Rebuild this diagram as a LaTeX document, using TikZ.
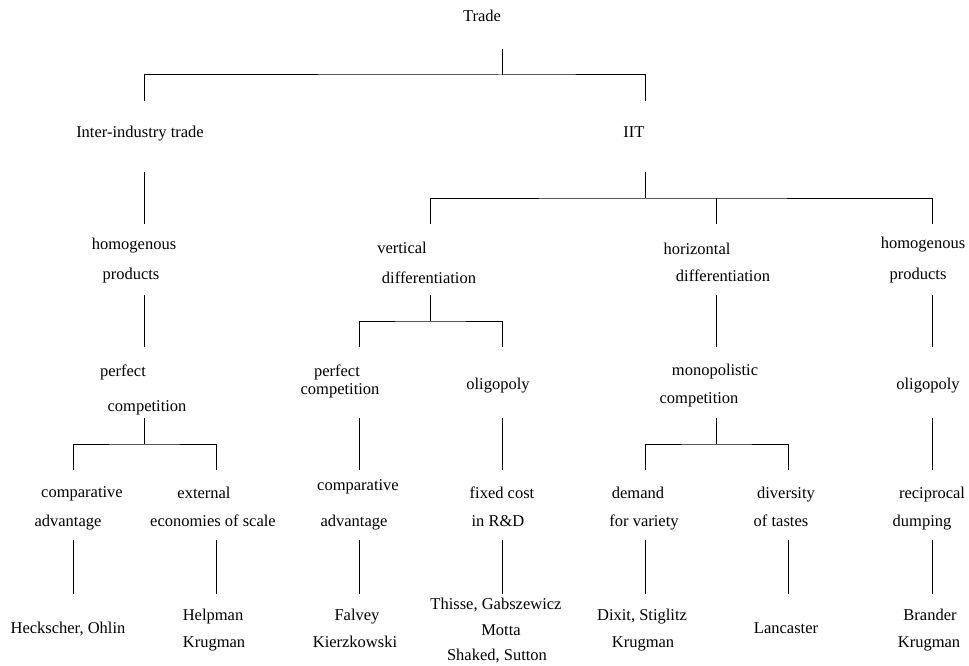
\documentclass[tikz,border=0pt]{standalone}
\usepackage{fontspec}
\setmainfont{Liberation Serif}
\begin{document}
\begin{tikzpicture}[x=1pt,y=-1pt,
  lbl/.style={anchor=base,inner sep=0pt,font=\fontsize{16.5}{19}\selectfont},
  conn/.style={draw=black,line width=1pt}]
\useasboundingbox (0,0) rectangle (969,666);
% ---- labels ----
\node[lbl] (trade) at (482,22) {Trade};
\node[lbl] (inter) at (140,138) {Inter-industry trade};
\node[lbl] (iit) at (634,138) {IIT};
\node[lbl] (hlA) at (134,249) {homogenous};
\node[lbl] (hlB) at (131,279) {products};
\node[lbl] (vdA) at (402,253) {vertical};
\node[lbl] (vdB) at (429,283) {differentiation};
\node[lbl] (hdA) at (697,254) {horizontal};
\node[lbl] (hdB) at (723,281) {differentiation};
\node[lbl] (hpA) at (923,248) {homogenous};
\node[lbl] (hpB) at (918,279) {products};
\node[lbl] (pcA) at (123,376) {perfect};
\node[lbl] (pcB) at (147,411) {competition};
\node[lbl] (vpA) at (337,376) {perfect};
\node[lbl] (vpB) at (340,394) {competition};
\node[lbl] (vo) at (498,389) {oligopoly};
\node[lbl] (mcA) at (715,375) {monopolistic};
\node[lbl] (mcB) at (699,403) {competition};
\node[lbl] (og) at (928,389) {oligopoly};
\node[lbl] (caA) at (82,497) {comparative};
\node[lbl] (caB) at (68,526) {advantage};
\node[lbl] (eeA) at (204,498) {external};
\node[lbl] (eeB) at (213,526) {economies of scale};
\node[lbl] (vcA) at (358,490) {comparative};
\node[lbl] (vcB) at (354,526) {advantage};
\node[lbl] (frA) at (502,498) {fixed cost};
\node[lbl] (frB) at (498,526) {in R\&D};
\node[lbl] (dvA) at (638,498) {demand};
\node[lbl] (dvB) at (644,526) {for variety};
\node[lbl] (dtA) at (786,498) {diversity};
\node[lbl] (dtB) at (781,526) {of tastes};
\node[lbl] (rdA) at (932,498) {reciprocal};
\node[lbl] (rdB) at (922,526) {dumping};
\node[lbl] (ho) at (68,633) {Heckscher, Ohlin};
\node[lbl] (hkA) at (213,620) {Helpman};
\node[lbl] (hkB) at (214,647) {Krugman};
\node[lbl] (fkA) at (357,620) {Falvey};
\node[lbl] (fkB) at (355,647) {Kierzkowski};
\node[lbl] (tgA) at (496,609) {Thisse, Gabszewicz};
\node[lbl] (tgB) at (501,635) {Motta};
\node[lbl] (tgC) at (497,660) {Shaked, Sutton};
\node[lbl] (dsA) at (642,620) {Dixit, Stiglitz};
\node[lbl] (dsB) at (643,647) {Krugman};
\node[lbl] (lc) at (786,633) {Lancaster};
\node[lbl] (bkA) at (930,620) {Brander};
\node[lbl] (bkB) at (929,647) {Krugman};
% ---- connector end points ----
\coordinate (tS) at (502,49);   \coordinate (tJ) at (502,75);
\coordinate (interN) at (144,101); \coordinate (iitN) at (645,101);
\coordinate (interS) at (144,172); \coordinate (hlN) at (144,224);
\coordinate (iitS) at (645,172); \coordinate (iitJ) at (645,198);
\coordinate (vdN) at (430,224); \coordinate (hdN) at (716,224); \coordinate (hpN) at (932,224);
\coordinate (hlS) at (144,295); \coordinate (pcN) at (144,347);
\coordinate (pcS) at (144,418); \coordinate (pcJ) at (144,444);
\coordinate (caN) at (73,470); \coordinate (eeN) at (216,470);
\coordinate (caS) at (73,540); \coordinate (hoN) at (73,594);
\coordinate (eeS) at (216,540); \coordinate (hkN) at (216,594);
\coordinate (vdS) at (430,295); \coordinate (vdJ) at (430,321);
\coordinate (vpN) at (359,347); \coordinate (voN) at (502,347);
\coordinate (vpS) at (359,418); \coordinate (vcN) at (359,470);
\coordinate (vcS) at (359,540); \coordinate (fkN) at (359,594);
\coordinate (voS) at (502,418); \coordinate (frN) at (502,470);
\coordinate (frS) at (502,540); \coordinate (tgN) at (502,594);
\coordinate (hdS) at (716,295); \coordinate (mcN) at (716,347);
\coordinate (mcS) at (716,418); \coordinate (mcJ) at (716,444);
\coordinate (dvN) at (645,470); \coordinate (dtN) at (788,470);
\coordinate (dvS) at (645,540); \coordinate (dsN) at (645,594);
\coordinate (dtS) at (788,540); \coordinate (lcN) at (788,594);
\coordinate (hpS) at (932,295); \coordinate (ogN) at (932,347);
\coordinate (ogS) at (932,418); \coordinate (rdN) at (932,470);
\coordinate (rdS) at (932,540); \coordinate (bkN) at (932,594);
% ---- connectors ----
\draw[conn] (tS) -- (tJ);
\draw[conn] (interN) |- (tJ) -| (iitN);
\draw[conn] (interS) -- (hlN);
\draw[conn] (iitS) -- (iitJ);
\draw[conn] (vdN) |- (iitJ) -| (hpN);
\draw[conn] (hdN) -- (hdN |- iitJ);
\draw[conn] (hlS) -- (pcN);
\draw[conn] (pcS) -- (pcJ);
\draw[conn] (caN) |- (pcJ) -| (eeN);
\draw[conn] (caS) -- (hoN);
\draw[conn] (eeS) -- (hkN);
\draw[conn] (vdS) -- (vdJ);
\draw[conn] (vpN) |- (vdJ) -| (voN);
\draw[conn] (vpS) -- (vcN);
\draw[conn] (vcS) -- (fkN);
\draw[conn] (voS) -- (frN);
\draw[conn] (frS) -- (tgN);
\draw[conn] (hdS) -- (mcN);
\draw[conn] (mcS) -- (mcJ);
\draw[conn] (dvN) |- (mcJ) -| (dtN);
\draw[conn] (dvS) -- (dsN);
\draw[conn] (dtS) -- (lcN);
\draw[conn] (hpS) -- (ogN);
\draw[conn] (ogS) -- (rdN);
\draw[conn] (rdS) -- (bkN);
\end{tikzpicture}
\end{document}
